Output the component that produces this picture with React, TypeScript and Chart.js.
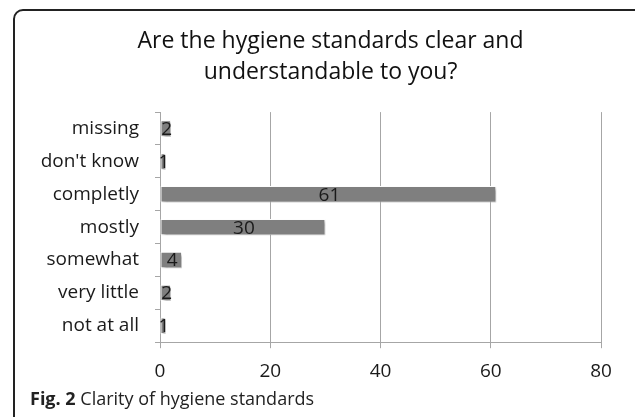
import React, { useEffect, useRef } from "react";
import { Chart, registerables } from "chart.js";

Chart.register(...registerables);

const titleLines = ["Are the hygiene standards clear and", "understandable to you?"];
const categories = ["missing", "don't know", "completly", "mostly", "somewhat", "very little", "not at all"];
const values = [2, 1, 61, 30, 4, 2, 1];
const xTicks = [0, 20, 40, 60, 80];
const captionBold = "Fig. 2";
const captionText = " Clarity of hygiene standards";

const FONT = "'Open Sans', 'Noto Sans', sans-serif";

export default function App() {
  const ref = useRef<HTMLCanvasElement | null>(null);

  useEffect(() => {
    if (!ref.current) return;
    const shadowAndLabels = {
      id: "shadowAndLabels",
      beforeDatasetsDraw(chart: any) {
        const ctx = chart.ctx;
        ctx.save();
        ctx.shadowColor = "rgba(0,0,0,0.35)";
        ctx.shadowBlur = 3;
        ctx.shadowOffsetX = 2;
        ctx.shadowOffsetY = 2;
      },
      afterDatasetsDraw(chart: any) {
        const ctx = chart.ctx;
        ctx.restore();
        const meta = chart.getDatasetMeta(0);
        ctx.save();
        ctx.font = `19px ${FONT}`;
        ctx.fillStyle = "#1a1a1a";
        ctx.textAlign = "center";
        ctx.textBaseline = "middle";
        meta.data.forEach((el: any, i: number) => {
          const p = el.getProps(["x", "y", "base"], true);
          ctx.fillText(String(values[i]), (p.x + p.base) / 2 + 1, p.y + 1);
        });
        ctx.restore();
      },
    };

    const chart = new Chart(ref.current, {
      type: "bar",
      data: {
        labels: categories,
        datasets: [
          {
            data: values,
            backgroundColor: "#7f7f7f",
            borderColor: "#ffffff",
            borderWidth: 1,
            borderSkipped: false,
            barPercentage: 0.5,
            categoryPercentage: 1,
          },
        ],
      },
      options: {
        indexAxis: "y",
        animation: false,
        responsive: false,
        maintainAspectRatio: false,
        layout: { padding: { left: 26, right: 0, top: 0, bottom: 22 } },
        plugins: {
          legend: { display: false },
          tooltip: { enabled: false },
          title: {
            display: true,
            text: titleLines,
            color: "#111",
            font: { family: FONT, size: 23, weight: "normal", lineHeight: 1.35 },
            padding: { top: 26, bottom: 24 },
          },
        },
        scales: {
          x: {
            type: "linear",
            min: 0,
            max: 80,
            afterBuildTicks: (scale: any) => {
              scale.ticks = xTicks.map((v) => ({ value: v }));
            },
            grid: { color: "#a6a6a6", lineWidth: 1, drawTicks: true, tickLength: 6 },
            border: { color: "#a6a6a6" },
            ticks: { color: "#1a1a1a", font: { family: FONT, size: 19 }, padding: 12 },
          },
          y: {
            type: "category",
            afterFit: (scale: any) => {
              scale.width = 134;
            },
            grid: { offset: true, drawOnChartArea: false, drawTicks: true, tickLength: 5, color: "#a6a6a6" },
            border: { color: "#a6a6a6" },
            ticks: { color: "#1a1a1a", font: { family: FONT, size: 19 }, padding: 16 },
          },
          yRight: {
            type: "linear",
            position: "right",
            display: true,
            afterFit: (scale: any) => {
              scale.width = 34;
            },
            grid: { display: false, drawTicks: false },
            border: { display: false },
            ticks: { display: false },
          },
        },
      },
      plugins: [shadowAndLabels],
    } as any);
    return () => chart.destroy();
  }, []);

  return (
    <div style={{ position: "fixed", left: 0, top: 0, width: 635, height: 417, background: "#fff", overflow: "hidden" }}>
      <div
        style={{
          position: "absolute",
          left: 13,
          top: 9,
          width: 640,
          height: 430,
          border: "2px solid #222",
          borderRadius: 10,
          boxSizing: "border-box",
        }}
      />
      <canvas ref={ref} width={635} height={417} style={{ position: "absolute", left: 0, top: 0 }} />
      <div
        style={{
          position: "absolute",
          left: 30,
          top: 386,
          fontFamily: FONT,
          fontSize: 18,
          color: "#222",
          whiteSpace: "nowrap",
        }}
      >
        <b>{captionBold}</b>
        {captionText}
      </div>
    </div>
  );
}
